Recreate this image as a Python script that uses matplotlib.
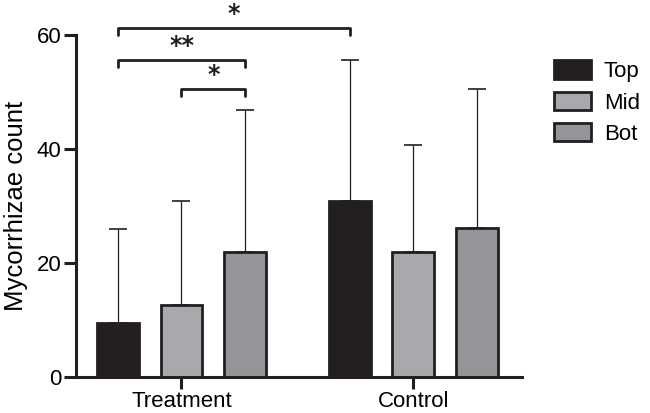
import numpy as np
import matplotlib
matplotlib.use("Agg")
import matplotlib.pyplot as plt
from matplotlib.patches import Patch

groups = ["Treatment", "Control"]
levels = ["Top", "Mid", "Bot"]
means = {"Treatment": [9.5, 12.6, 21.9], "Control": [30.8, 21.9, 26.2]}
sds = {"Treatment": [16.4, 18.2, 24.9], "Control": [24.8, 18.7, 24.3]}
colors = ["#231f20", "#a7a9ac", "#939598"]
# significance brackets: (group_a, level_a, group_b, level_b, label, height)
sig = [
    ("Treatment", 0, "Control", 0, "*", 61.2),
    ("Treatment", 0, "Treatment", 2, "**", 55.6),
    ("Treatment", 1, "Treatment", 2, "*", 50.5),
]

plt.rcParams["font.family"] = ["Liberation Sans", "DejaVu Sans"]

fig = plt.figure(figsize=(6.5, 4.13), dpi=100)
ax = fig.add_axes([0.117, 0.087, 0.686, 0.829])

group_start = {"Treatment": 0.0, "Control": 3.65}
width = 0.66
lw = 2.0
fs = 16

def xpos(g, i):
    return group_start[g] + i

for g in groups:
    xs = [xpos(g, i) for i in range(3)]
    ax.errorbar(xs, means[g], yerr=[np.zeros(3), sds[g]], fmt="none",
                ecolor="#231f20", elinewidth=0.9, capsize=6.5, capthick=1.2, zorder=1)
    ax.bar(xs, means[g], width=width, color=colors, edgecolor="#231f20",
           linewidth=lw, zorder=2)

for ga, ia, gb, ib, lab, h in sig:
    x1, x2 = xpos(ga, ia), xpos(gb, ib)
    tip = 1.3
    ax.plot([x1, x1, x2, x2], [h - tip, h, h, h - tip], color="#231f20",
            lw=lw, clip_on=False, solid_capstyle="round", solid_joinstyle="round")
    ax.text((x1 + x2) / 2, h + 0.3, lab, ha="center", va="bottom",
            fontsize=17, fontweight="bold", color="#231f20", clip_on=False,
            family="DejaVu Sans")

ax.set_xlim(-0.66, 6.36)
ax.set_ylim(0, 60)
ax.set_yticks([0, 20, 40, 60])
ax.set_xticks([group_start[g] + 1 for g in groups])
ax.set_xticklabels(groups)
ax.set_ylabel("Mycorrhizae count", fontsize=18.5, labelpad=6)
ax.spines["top"].set_visible(False)
ax.spines["right"].set_visible(False)
for s in ["left", "bottom"]:
    ax.spines[s].set_linewidth(2.2)
    ax.spines[s].set_color("#231f20")
ax.tick_params(axis="both", length=8.5, width=2.2, color="#231f20",
               labelsize=fs, pad=2)
ax.tick_params(axis="x", pad=1.5)

handles = [Patch(facecolor=c, edgecolor="#231f20", linewidth=lw, label=l)
           for c, l in zip(colors, levels)]
fig.legend(handles=handles, loc="upper left", bbox_to_anchor=(0.821, 0.902),
           frameon=False, fontsize=fs, handlelength=1.7, handleheight=0.9,
           labelspacing=0.42, handletextpad=0.55)

fig.savefig("out.png", dpi=100)
